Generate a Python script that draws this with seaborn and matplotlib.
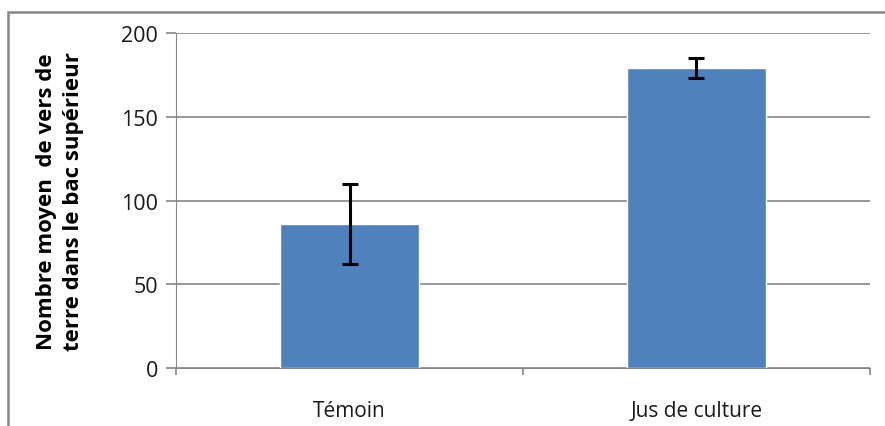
import pandas as pd
import numpy as np
import matplotlib.pyplot as plt
import seaborn as sns
from matplotlib.patches import Rectangle

categories = ['Témoin', 'Jus de culture']
means = [86, 179]
errors = [24, 6]

df = pd.DataFrame({'cond': categories, 'val': means})

sns.set_style('white')
plt.rcParams['font.family'] = ['Open Sans', 'DejaVu Sans']

fig = plt.figure(figsize=(8.85, 4.27), dpi=100)
ax = fig.add_axes([0.199, 0.136, 0.784, 0.784])

sns.barplot(data=df, x='cond', y='val', color='#4f81bd', saturation=1, width=0.4, ax=ax, zorder=2)
ax.errorbar(np.arange(len(categories)), means, yerr=errors, fmt='none', ecolor='black',
            elinewidth=2.2, capsize=6, capthick=2.2, zorder=3)

ax.set_ylim(0, 200)
ax.set_yticks(np.arange(0, 201, 50))
ax.set_xlim(-0.5, 1.5)
ax.yaxis.grid(True, color='#868686', linewidth=1.2, zorder=0)
ax.set_axisbelow(True)
for s in ['top', 'right']:
    ax.spines[s].set_visible(False)
ax.spines['left'].set_color('#868686')
ax.spines['bottom'].set_color('#868686')
ax.set_xticks([-0.5, 0.5, 1.5], minor=False)
ax.set_xticklabels([])
ax.set_xticks([0, 1], minor=True)
ax.set_xticklabels(categories, minor=True)
ax.tick_params(axis='x', which='major', direction='out', length=5, width=1.2, color='#868686', bottom=True)
ax.tick_params(axis='x', which='minor', length=0, labelsize=15, pad=23, colors='#1a1a1a')
ax.tick_params(axis='y', direction='out', length=7, width=1.2, color='#868686', left=True,
               labelsize=15.5, pad=6, labelcolor='#1a1a1a')
ax.set_xlabel(None)
ax.set_ylabel('Nombre moyen  de vers de\nterre dans le bac supérieur', fontsize=16, fontweight='bold',
              labelpad=27, linespacing=1.35, color='black')

fig.patches.append(Rectangle((8 / 885, -0.05), 1.0, 1.05 - 13 / 427, transform=fig.transFigure,
                             fill=False, edgecolor='#868686', linewidth=1.8))

plt.savefig('out.png', dpi=100)
